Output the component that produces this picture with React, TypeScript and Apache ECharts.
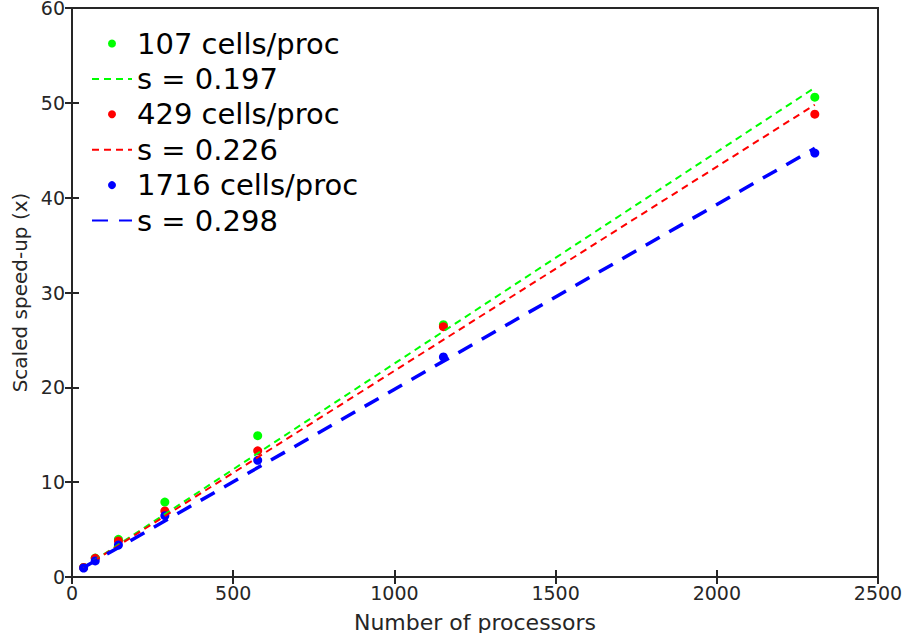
import React, { useEffect, useRef } from "react";
import * as echarts from "echarts";

const processors = [36, 72, 144, 288, 576, 1152, 2304];
const speedup107 = [1.0, 2.0, 3.97, 7.9, 14.9, 26.6, 50.6];
const speedup429 = [1.0, 1.97, 3.8, 6.96, 13.3, 26.4, 48.8];
const speedup1716 = [0.95, 1.69, 3.37, 6.47, 12.3, 23.2, 44.7];
const fitX = [36, 2304];
const fit107 = [1.0, 51.6];
const fit429 = [1.0, 49.8];
const fit1716 = [1.0, 45.2];
const xTicks = [0, 500, 1000, 1500, 2000, 2500];
const yTicks = [0, 10, 20, 30, 40, 50, 60];

const pair = (xs: number[], ys: number[]) => xs.map((x, i) => [x, ys[i]]);

export default function App() {
  const ref = useRef<HTMLDivElement>(null);
  useEffect(() => {
    document.body.style.margin = "0";
    const chart = echarts.init(ref.current!, null, { renderer: "svg" });
    const axisColor = "#262626";
    const font = "'DejaVu Sans', sans-serif";
    const scatter = (name: string, color: string, data: number[]) => ({
      name,
      type: "scatter",
      data: pair(processors, data),
      symbol: "circle",
      symbolSize: 9,
      itemStyle: { color, opacity: 1 },
      z: 3,
    });
    const fit = (name: string, color: string, data: number[], width: number, dash: number[]) => ({
      name,
      type: "line",
      data: pair(fitX, data),
      showSymbol: false,
      symbol: "none",
      lineStyle: { color, width, type: dash },
      itemStyle: { color },
      z: 4,
    });
    const tickStyle = { show: true, inside: true, length: 7, lineStyle: { color: axisColor, width: 2 } };
    chart.setOption({
      animation: false,
      backgroundColor: "#ffffff",
      grid: {
        left: 72,
        right: 33,
        top: 8,
        bottom: 56,
        outerBoundsMode: "none",
        containLabel: false,
        show: true,
        borderColor: axisColor,
        borderWidth: 2,
        backgroundColor: "#ffffff",
      },
      legend: {
        orient: "vertical",
        left: 86,
        top: 21,
        itemWidth: 40,
        itemHeight: 8,
        itemGap: 0.4,
        textStyle: { fontFamily: font, fontSize: 29, color: "#000", lineHeight: 35 },
        data: [
          { name: "107 cells/proc", icon: "circle" },
          { name: "s = 0.197", itemStyle: { opacity: 0 } },
          { name: "429 cells/proc", icon: "circle" },
          { name: "s = 0.226", itemStyle: { opacity: 0 } },
          { name: "1716 cells/proc", icon: "circle" },
          { name: "s = 0.298", itemStyle: { opacity: 0 } },
        ],
      },
      xAxis: [
        {
          type: "value",
          min: 0,
          max: 2500,
          interval: 500,
          name: "Number of processors",
          nameLocation: "middle",
          nameGap: 34,
          nameTextStyle: { fontFamily: font, fontSize: 22, color: axisColor },
          axisLine: { show: true, onZero: false, lineStyle: { color: axisColor, width: 2 } },
          axisTick: tickStyle,
          axisLabel: { fontFamily: font, fontSize: 19, color: axisColor, margin: 6,
            formatter: (v: number) => (xTicks.includes(v) ? String(v) : "") },
          splitLine: { show: false },
        },
        {
          type: "value",
          position: "top",
          min: 0,
          max: 2500,
          interval: 500,
          axisLine: { show: true, lineStyle: { color: axisColor, width: 2 } },
          axisTick: tickStyle,
          axisLabel: { show: false },
          splitLine: { show: false },
        },
      ],
      yAxis: [
        {
          type: "value",
          min: 0,
          max: 60,
          interval: 10,
          name: "Scaled speed-up (x)",
          nameLocation: "middle",
          nameGap: 39,
          nameTextStyle: { fontFamily: font, fontSize: 20, color: axisColor },
          axisLine: { show: true, onZero: false, lineStyle: { color: axisColor, width: 2 } },
          axisTick: tickStyle,
          axisLabel: { fontFamily: font, fontSize: 19, lineHeight: 16, color: axisColor, margin: 7,
            formatter: (v: number) => (yTicks.includes(v) ? String(v) : "") },
          splitLine: { show: false },
        },
        {
          type: "value",
          position: "right",
          min: 0,
          max: 60,
          interval: 10,
          axisLine: { show: true, lineStyle: { color: axisColor, width: 2 } },
          axisTick: tickStyle,
          axisLabel: { show: false },
          splitLine: { show: false },
        },
      ],
      series: [
        scatter("107 cells/proc", "#00ff00", speedup107),
        fit("s = 0.197", "#00ff00", fit107, 2, [7, 5]),
        scatter("429 cells/proc", "#ff0000", speedup429),
        fit("s = 0.226", "#ff0000", fit429, 2, [7, 5]),
        scatter("1716 cells/proc", "#0000ff", speedup1716),
        fit("s = 0.298", "#0000ff", fit1716, 3.5, [16, 11]),
      ],
    });
    return () => chart.dispose();
  }, []);
  return (
    <div
      ref={ref}
      style={{ position: "fixed", left: 0, top: 0, width: 911, height: 633, background: "#fff" }}
    />
  );
}
